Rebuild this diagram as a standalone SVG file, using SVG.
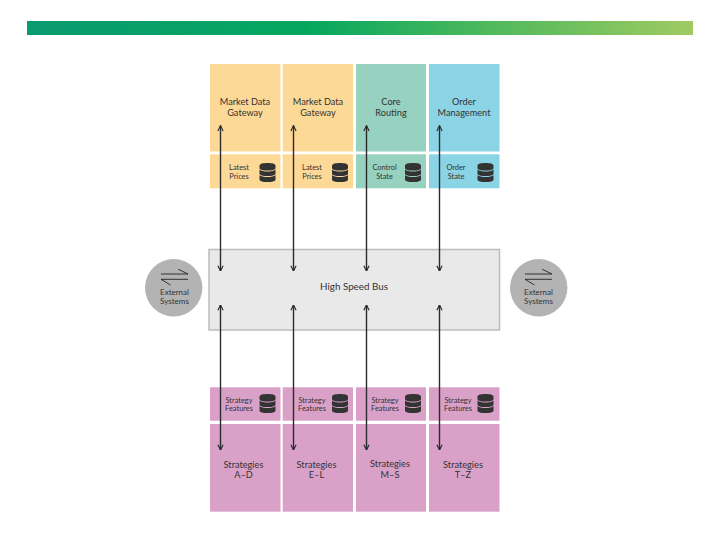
<svg xmlns="http://www.w3.org/2000/svg" width="720" height="540" viewBox="0 0 720 540">
<style>
text{font-family:Lato,"Open Sans",sans-serif;fill:#333;text-anchor:middle}
.l{font-size:9.2px}
.s{font-size:7.4px}
.e2{font-size:8px}
.o{fill:#fdd998}
.t{fill:#96d2bf}
.b{fill:#8ad4e6}
.p{fill:#d9a1c8}
.c{stroke:#2b2b2b;stroke-width:1.4;fill:none;marker-start:url(#a);marker-end:url(#a)}
.e{fill:#b3b3b3}
.x{stroke:#222;stroke-width:.9;fill:none}
.db{fill:#333}
</style>
<defs>
<linearGradient id="g" x1="0" x2="1" y1="0" y2="0"><stop offset="0" stop-color="#0a9a70"/><stop offset=".42" stop-color="#05a75f"/><stop offset=".7" stop-color="#50b95c"/><stop offset="1" stop-color="#a0ca62"/></linearGradient>
<marker id="a" viewBox="0 0 8 8" refX="7.4" refY="4" markerWidth="6.5" markerHeight="6.5" orient="auto-start-reverse" markerUnits="userSpaceOnUse"><path d="M1 .8L7.5 4L1 7.2" fill="none" stroke="#2b2b2b" stroke-width="1.4"/></marker>
<g id="db"><path class="db" d="M0 2.6C0 .8 3.6 0 8 0S16 .8 16 2.6V5C16 6.8 12.4 7.6 8 7.6S0 6.8 0 5Z"/><path class="db" d="M0 6.6C1.5 8 4.5 8.6 8 8.6S14.5 8 16 6.6V10.400C16 12.2 12.4 13 8 13S0 12.200 0 10.400Z"/><path class="db" d="M0 12C1.500 13.400 4.500 14 8 14S14.500 13.400 16 12V16.400C16 18.200 12.400 19 8 19S0 18.200 0 16.400Z"/></g>
<g id="sw"><path class="x" d="M-13.500-5H13.500M3.700-9.700L13.500-5M-13.500 .3H13.500M-13.500 .3L-4 6"/></g>
</defs>
<rect id="banner" x="27" y="21" width="666" height="14" fill="url(#g)"/>
<g id="bus"><rect x="209" y="249.500" width="290.500" height="80.500" fill="#e9e9e9" stroke="#bcbcbc" stroke-width="1.500"/><text x="354" y="290" font-size="9.800">High Speed Bus</text></g>
<g id="gateway1"><rect class="o" x="210" y="64" width="70.500" height="87.500"/><text class="l" x="245" y="105">Market Data</text><text class="l" x="245" y="116">Gateway</text></g>
<g id="gateway2"><rect class="o" x="282.700" y="64" width="70.300" height="87.500"/><text class="l" x="318" y="105">Market Data</text><text class="l" x="318" y="116">Gateway</text></g>
<g id="routing"><rect class="t" x="356" y="64" width="70" height="87.500"/><text class="l" x="391" y="105">Core</text><text class="l" x="391" y="116">Routing</text></g>
<g id="order"><rect class="b" x="429" y="64" width="70.500" height="87.500"/><text class="l" x="464" y="105">Order</text><text class="l" x="464" y="116">Management</text></g>
<g id="prices1"><rect class="o" x="210" y="154.300" width="70.500" height="34"/><text class="s" x="239" y="170">Latest</text><text class="s" x="239" y="179">Prices</text><use href="#db" x="259.500" y="163"/></g>
<g id="prices2"><rect class="o" x="282.700" y="154.300" width="70.300" height="34"/><text class="s" x="312" y="170">Latest</text><text class="s" x="312" y="179">Prices</text><use href="#db" x="332" y="163"/></g>
<g id="control"><rect class="t" x="356" y="154.300" width="70" height="34"/><text class="s" x="384.500" y="170">Control</text><text class="s" x="384.500" y="179">State</text><use href="#db" x="405" y="163"/></g>
<g id="orderstate"><rect class="b" x="429" y="154.300" width="70.500" height="34"/><text class="s" x="456" y="170">Order</text><text class="s" x="456" y="179">State</text><use href="#db" x="477.500" y="163"/></g>
<g id="features1"><rect class="p" x="210" y="387.300" width="70.500" height="33.400"/><text class="s" x="239" y="403">Strategy</text><text class="s" x="239" y="411">Features</text><use href="#db" x="259.500" y="394"/></g>
<g id="features2"><rect class="p" x="282.700" y="387.300" width="70.300" height="33.400"/><text class="s" x="312" y="403">Strategy</text><text class="s" x="312" y="411">Features</text><use href="#db" x="332" y="394"/></g>
<g id="features3"><rect class="p" x="356" y="387.300" width="70" height="33.400"/><text class="s" x="385" y="403">Strategy</text><text class="s" x="385" y="411">Features</text><use href="#db" x="405" y="394"/></g>
<g id="features4"><rect class="p" x="429" y="387.300" width="70.500" height="33.400"/><text class="s" x="458" y="403">Strategy</text><text class="s" x="458" y="411">Features</text><use href="#db" x="477.500" y="394"/></g>
<g id="strategies1"><rect class="p" x="210" y="424" width="70.500" height="87.700"/><text class="l" x="243.500" y="468">Strategies</text><text class="l" x="243.500" y="478">A–D</text></g>
<g id="strategies2"><rect class="p" x="282.700" y="424" width="70.300" height="87.700"/><text class="l" x="316.500" y="468">Strategies</text><text class="l" x="316.500" y="478">E–L</text></g>
<g id="strategies3"><rect class="p" x="356" y="424" width="70" height="87.700"/><text class="l" x="390" y="467">Strategies</text><text class="l" x="390" y="477.500">M–S</text></g>
<g id="strategies4"><rect class="p" x="429" y="424" width="70.500" height="87.700"/><text class="l" x="463" y="468">Strategies</text><text class="l" x="463" y="478">T–Z</text></g>
<g id="ext-left"><circle class="e" cx="173.700" cy="287.700" r="28.700"/><use href="#sw" x="174.500" y="279"/><text class="e2" x="174.500" y="295">External</text><text class="e2" x="174.500" y="304">Systems</text></g>
<g id="ext-right"><circle class="e" cx="538.700" cy="287.700" r="28.700"/><use href="#sw" x="538.500" y="279"/><text class="e2" x="538.500" y="295">External</text><text class="e2" x="538.500" y="304">Systems</text></g>
<g id="connectors">
<path class="c" d="M220.500 125.700V271"/><path class="c" d="M293.500 125.700V271"/><path class="c" d="M366.500 125.700V271"/><path class="c" d="M439.500 125.700V271"/>
<path class="c" d="M220.500 305V450"/><path class="c" d="M293.500 305V450"/><path class="c" d="M366.500 305V450"/><path class="c" d="M439.500 305V450"/>
</g>
</svg>
